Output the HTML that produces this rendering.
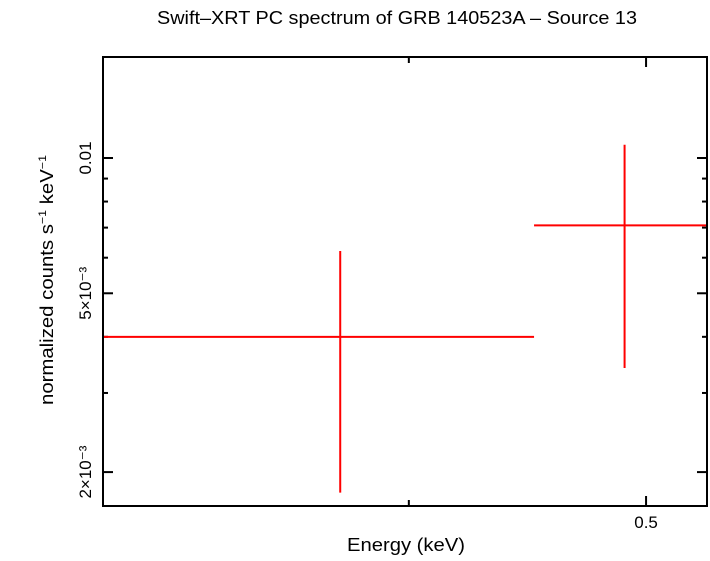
<!DOCTYPE html>
<html><head><meta charset="utf-8"><style>
body{margin:0;background:#fff}
svg text{font-family:"Liberation Sans",sans-serif;fill:#000}
</style></head><body>
<svg id="c" width="710" height="556" xmlns="http://www.w3.org/2000/svg">
<text x="397" y="24" font-size="18" text-anchor="middle" textLength="480" lengthAdjust="spacingAndGlyphs">Swift–XRT PC spectrum of GRB 140523A – Source 13</text>
<text x="406" y="551" font-size="18" text-anchor="middle" textLength="118" lengthAdjust="spacingAndGlyphs">Energy (keV)</text>
<text transform="translate(53,280) rotate(-90)" font-size="18" text-anchor="middle" textLength="250" lengthAdjust="spacingAndGlyphs">normalized counts s<tspan font-size="11" dy="-7">−1</tspan><tspan dy="7"> keV</tspan><tspan font-size="11" dy="-7">−1</tspan></text>
<g id="axes"></g>
<g id="data"></g>
<rect x="103" y="57" width="604" height="449" fill="none" stroke="#000" stroke-width="2"/>
</svg>
<script>
const xCenters=[0.375,0.490];
const xLow=[0.300,0.450];
const xHigh=[0.450,0.530];
const yValues=[0.00400,0.00708];
const yLow=[0.00180,0.00341];
const yHigh=[0.00621,0.0107];
const yMajorTicks=[0.01,0.005,0.002];
const yMajorLabels=["0.01","5×10⁻³","2×10⁻³"];
const yMinorTicks=[0.009,0.008,0.007,0.006,0.004,0.003];
const xMajorTicks=[0.5];
const xMajorLabels=["0.5"];
const xMinorTicks=[0.4];

const L=103,R=707,T=57,B=506;
const xMin=0.300,xMax=0.5295,yMin=0.001681,yMax=0.01678;
const sx=v=>L+(Math.log10(v)-Math.log10(xMin))/(Math.log10(xMax)-Math.log10(xMin))*(R-L);
const sy=v=>B-(Math.log10(v)-Math.log10(yMin))/(Math.log10(yMax)-Math.log10(yMin))*(B-T);
const NS="http://www.w3.org/2000/svg";
const ax=document.getElementById('axes'),dg=document.getElementById('data');
function ln(p,x1,y1,x2,y2,c,w){const e=document.createElementNS(NS,'line');e.setAttribute('x1',x1);e.setAttribute('y1',y1);e.setAttribute('x2',x2);e.setAttribute('y2',y2);e.setAttribute('stroke',c);e.setAttribute('stroke-width',w);p.appendChild(e);return e;}
function tx(x,y,s,rot){const e=document.createElementNS(NS,'text');e.setAttribute('x',x);e.setAttribute('y',y);e.setAttribute('font-size','17');e.setAttribute('text-anchor','middle');if(rot)e.setAttribute('transform','rotate(-90 '+x+' '+y+')');e.textContent=s;ax.appendChild(e);return e;}
yMajorTicks.forEach((v,i)=>{const y=sy(v);
 let t=ln(ax,L,y,L+10,y,'#000',2);
 
 
 t=ln(ax,R-10,y,R,y,'#000',2);
 
 
 const l=tx(91,y,yMajorLabels[i],true);
 
 
});
yMinorTicks.forEach(v=>{const y=sy(v);
 let t=ln(ax,L,y,L+5,y,'#000',2);
 
 
 t=ln(ax,R-5,y,R,y,'#000',2);
 
 
});
xMajorTicks.forEach((v,i)=>{const x=sx(v);
 let t=ln(ax,x,B,x,B-10,'#000',2);
 
 
 t=ln(ax,x,T,x,T+10,'#000',2);
 
 
 const l=tx(x,528,xMajorLabels[i],false);
 
 
});
xMinorTicks.forEach(v=>{const x=sx(v);
 let t=ln(ax,x,B,x,B-6,'#000',2);
 
 
 t=ln(ax,x,T,x,T+6,'#000',2);
 
 
});
xCenters.forEach((xc,i)=>{
 const g=document.createElementNS(NS,'g');
 
 
 ln(g,sx(xLow[i]),sy(yValues[i]),sx(xHigh[i]),sy(yValues[i]),'#f00',2);
 ln(g,sx(xc),sy(yLow[i]),sx(xc),sy(yHigh[i]),'#f00',2);
 dg.appendChild(g);
});
</script>
</body></html>
